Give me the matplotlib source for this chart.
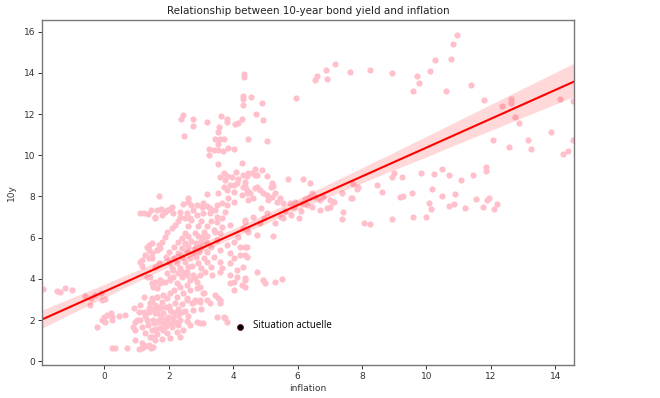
import numpy as np
import pandas as pd
import matplotlib
matplotlib.use("Agg")
import matplotlib.pyplot as plt
import seaborn as sns

# ---- data (inflation, 10y yield), grouped by region ----
left_pts = [(-1.92,3.52),(-1.47,3.42),(-1.37,3.34),(-1.21,3.54),(-1.00,3.48),(-0.59,3.18),
            (-0.45,2.73),(-0.43,3.06),(-0.28,3.22),(-0.12,3.30),(-0.07,2.98),(0.03,3.00),
            (-0.23,1.68),(-0.02,2.17),(0.08,2.25),(0.19,2.33),(0.24,2.17),(-0.07,2.00),
            (0.03,1.92),(0.24,2.00),(0.45,2.20),(0.65,2.25),(0.24,0.66),(0.34,0.66),
            (0.70,0.66),(1.07,0.60),(1.17,0.63)]

low_pts = [(0.96,1.03),(1.17,0.87),(1.38,0.79),(1.58,1.03),(1.43,1.19),(1.48,1.52),(1.27,1.36),
           (1.17,1.68),(0.96,1.92),(1.12,2.00),(1.33,2.00),(0.91,2.57),(1.12,2.73),(1.07,2.41),
           (1.22,2.41),(1.38,2.57),(1.58,2.33),(1.69,2.00),(1.48,2.98),(1.69,2.65),(1.22,3.14),
           (1.64,3.14),(1.43,4.11),(1.58,3.86),(1.74,3.95),(0.90,1.68),(0.95,1.52),(1.00,2.01),
           (1.52,3.62),(1.73,3.78),(1.89,3.86),(2.04,4.03),(2.14,4.11),(2.30,4.27),(2.45,4.35),
           (2.56,4.19),(2.66,3.95),(2.82,4.03),(2.97,4.19),(3.13,4.35),(3.34,4.19),(3.59,4.35),
           (3.90,3.78),(4.11,4.11),(4.27,3.70),(4.37,4.03),(4.01,3.46),(1.47,3.06),(1.63,3.14),
           (1.83,3.22),(2.04,3.30),(2.25,3.14),(2.45,3.30),(2.66,3.46),(2.87,3.54),(3.08,3.30),
           (2.56,3.06),(2.77,2.90),(2.97,2.90),(3.44,3.22),(3.54,3.06),(3.59,2.82),(3.28,2.82),
           (1.42,2.82),(1.57,2.73),(1.73,2.57),(1.89,2.65),(2.04,2.49),(2.19,2.33),(1.63,2.33),
           (1.83,2.33),(1.99,2.17),(2.14,2.09),(2.35,2.01),(1.52,2.01),(1.68,1.92),(1.83,1.84),
           (2.04,1.84),(2.30,1.76),(2.45,1.52),(2.66,1.76),(2.87,1.92),(2.97,1.84),(3.49,2.17),
           (3.75,2.09),(3.80,1.92),(2.25,1.44),(2.35,1.19),(1.47,1.19),(1.52,0.71),(2.71,2.82),
           (1.83,1.52),(1.73,1.60),(3.59,2.98),(3.70,2.17),(1.30,0.72),(1.45,0.62),(1.95,1.35),
           (2.10,1.65),(3.07,1.84),
           (1.35,1.75),(1.55,1.85),(1.62,1.30),(1.78,1.10),(1.90,2.00),(2.00,2.70),(2.20,2.85),
           (2.30,2.55),(2.50,2.45),(2.60,2.20),(2.40,2.80),(1.95,3.05),(2.15,3.45),(2.35,3.60),
           (2.55,3.70),(1.80,2.90),(2.75,2.50),(3.00,2.55),(2.55,1.95),(2.20,1.90),
           (1.25,2.20),(1.40,2.40),(1.55,2.55),(1.75,2.15),(1.90,1.70),(2.10,2.40),(2.30,2.25),
           (1.60,1.55),(2.05,1.15),(2.40,2.40)]

mid_left_pts = [(1.10,7.20),(1.24,7.20),(1.35,7.15),(1.45,7.36),(1.62,7.32),(1.75,7.40),(1.58,6.97),
                (1.69,8.04),(1.94,7.35),(2.09,7.51),(1.38,5.65),(1.48,5.73),(1.69,5.65),(1.64,5.40),
                (1.74,5.49),(1.38,5.40),(1.27,5.16),(1.17,4.92),(1.12,4.84),(1.48,5.00),(1.69,4.76),
                (1.58,4.56),(1.16,4.60),(1.31,4.11),(1.47,3.79),(1.63,3.54),(1.73,3.95),(1.94,4.27),
                (2.14,4.43),(2.04,3.95),(2.25,3.79),(2.40,4.11),(2.56,4.35),(2.71,4.60),(2.76,4.19),
                (2.87,3.87),(2.97,3.62),(3.07,3.30),(3.18,2.98),(2.97,2.98),(2.82,2.98),(2.56,2.98),
                (1.31,5.57),(1.47,5.24),(1.63,5.40),(1.78,5.81),(1.88,6.05),(1.94,6.29),(2.09,6.46),
                (2.19,6.62),(1.37,5.00)]

center_top_pts = [(2.61,7.91),(2.61,7.75),(3.18,8.12),(3.54,8.16),(3.80,8.32),(4.01,8.24),(3.90,8.56),
                  (4.11,8.64),(4.32,8.48),(4.27,8.07),(3.85,7.91),(4.01,7.75),(4.42,8.16),(4.47,7.83),
                  (1.88,7.26),(1.57,7.02),(1.78,7.10),(2.04,7.38),(2.14,7.18),(2.35,7.26),(2.35,7.02),
                  (2.56,7.18),(2.76,7.34),(2.87,7.59),(3.02,7.50),(3.18,7.54),(3.28,7.43),(2.66,6.94),
                  (2.51,6.94),(2.87,7.10),(3.07,7.18),(3.28,7.18),(3.44,7.34),(3.49,7.59),(3.65,7.67),
                  (3.80,7.59),(3.75,7.26),(3.49,7.02),(3.65,6.94),(2.45,7.62),(2.70,7.58),(3.05,7.68)]

center_pts = [(2.30,6.82),(2.70,6.85),(3.00,6.83),(3.30,6.80),(3.50,6.75),
              (2.60,6.58),(2.90,6.56),(3.20,6.57),
              (2.50,6.25),(2.80,6.22),(3.10,6.26),(3.45,6.27),
              (2.40,6.00),(2.60,6.08),(2.90,6.06),(3.05,6.02),(3.20,6.09),
              (2.30,5.80),(2.50,5.76),(2.70,5.83),(2.85,5.75),(3.00,5.82),(3.15,5.77),
              (2.15,5.55),(2.40,5.52),(2.60,5.58),(2.80,5.50),(3.00,5.57),(3.30,5.53),
              (2.00,5.30),(2.30,5.27),(2.55,5.33),(2.75,5.25),(2.95,5.32),(3.20,5.28),
              (1.90,5.05),(2.15,5.02),(2.40,5.08),(2.65,5.00),(2.85,5.06),(3.10,5.03),(3.40,5.07),
              (2.00,4.80),(2.25,4.78),(2.50,4.83),(2.90,4.76),(3.20,4.82),
              (2.10,4.55),(2.35,4.52),(2.60,4.58),(3.00,4.53),(3.30,4.57)]

mid_pts = [(3.59,4.84),(3.64,4.51),(3.90,4.76),(4.01,5.00),(4.21,5.16),(4.37,5.57),(4.42,5.08),
           (4.11,4.43),(3.90,4.19),(4.01,3.87),(4.37,3.95),(4.73,4.35),(4.94,3.95),(5.30,3.85),
           (5.51,3.98),(3.39,6.38),(3.64,6.54),(3.90,6.62),(4.37,6.78),(4.47,6.29),(4.73,6.13),
           (5.25,6.08),(4.01,5.81),(4.16,6.05),(3.80,5.65),(3.59,5.40),(4.21,5.57),(3.90,5.24),
           (3.49,5.89),(3.59,6.21),(4.37,6.86),(4.32,6.46),(4.42,6.37),(4.84,6.70),(5.30,6.73),
           (5.56,6.94),(6.03,6.94),(4.42,5.56),(4.37,5.16),(4.32,4.59),(4.99,3.82),(4.37,3.62)]

upper_pts = [(4.27,9.64),(4.32,9.04),(4.42,9.00),(4.47,9.13),(4.37,8.72),(4.58,9.13),(4.68,9.32),
             (4.89,9.29),(4.68,9.04),(5.04,9.00),(5.20,8.64),(5.25,8.51),(5.17,8.48),(5.71,8.85),
             (6.18,8.83),(6.39,8.67),(4.42,8.32),(4.68,8.40),(4.84,8.32),(4.94,8.16),(4.63,7.91),
             (4.53,8.16),(5.04,8.07),(5.09,7.83),(5.20,7.99),(5.30,8.16),(5.46,7.91),(5.35,7.75),
             (4.09,9.20),(3.96,8.96),(3.80,9.00),(4.16,8.83),(3.70,8.48),(4.01,8.56),(4.37,8.51),
             (4.73,8.48),(4.73,9.04),(3.60,8.95),(3.70,9.15),(3.75,8.80)]

band_pts = [(5.56,7.67),(5.77,7.67),(5.92,7.75),(6.13,7.67),(6.23,7.86),(6.34,7.99),(6.44,8.16),
            (6.54,7.96),(6.70,7.83),(6.80,7.99),(7.01,7.83),(6.44,7.50),(6.70,7.34),(6.91,7.42),
            (7.11,7.75),(7.37,8.16),(7.68,7.91),(7.89,8.48),(7.84,8.36),(7.73,8.59),(8.47,8.56),
            (8.61,8.20),(7.01,7.49),(7.37,6.91),(7.40,7.23),(8.06,6.71),(8.25,6.68),(5.60,7.30),
            (5.80,7.10),(5.90,7.50),(6.10,7.30),(6.30,7.60),(5.50,7.00),(5.05,7.20),(4.85,7.45),
            (4.60,7.00),(4.95,6.95)]

high_pts = [(5.95,12.80),(6.54,13.66),(6.61,13.86),(6.89,14.16),(6.91,13.69),(7.17,14.45),(7.62,14.03),
            (8.26,14.13),(8.93,13.98),(9.70,13.86),(9.78,13.49),(9.58,13.14),(10.11,14.11),(10.27,14.61),
            (10.77,14.66),(10.82,15.39),(10.96,15.83),(10.61,13.14),(11.39,13.43),(11.79,12.67),
            (12.34,12.41),(12.63,12.73),(12.63,12.52),(12.75,11.87),(12.88,11.55),(14.15,12.73),
            (14.55,12.64),(13.86,11.13),(12.06,10.73),(12.58,10.39),(13.14,10.76),(13.25,10.32),
            (14.24,10.06),(14.41,10.21),(14.55,10.74)]

upper_left_pts = [(4.34,13.95),(4.34,13.82),(4.32,12.88),(4.30,12.73),(4.56,12.82),(4.29,12.46),
                  (4.91,12.52),(2.45,11.96),(2.37,11.75),(2.75,11.75),(2.76,11.42),(2.48,10.95),
                  (3.18,11.63),(3.61,11.91),(3.80,11.78),(3.82,11.63),(4.06,11.53),(4.16,11.58),
                  (4.27,11.75),(4.71,12.00),(4.94,11.71),(3.57,11.39),(3.54,11.15),(4.47,10.78),
                  (5.04,10.71),(3.44,10.79),(3.60,10.78),(3.70,10.78),(3.54,10.55),(3.26,10.29),
                  (3.39,10.26),(3.54,10.26),(3.68,10.22),(3.85,10.35),(4.01,10.29),(3.25,10.00),
                  (3.52,9.58)]

right_pts = [(8.93,8.96),(9.00,9.16),(9.25,8.95),(9.84,9.16),(10.25,9.11),(10.49,9.35),(10.70,9.04),
             (11.07,8.80),(11.44,9.03),(11.84,9.25),(11.85,9.45),(10.17,8.35),(9.55,8.18),(9.27,8.04),
             (9.18,7.96),(10.47,8.02),(10.89,8.11),(11.54,7.88),(11.88,7.83),(11.93,7.94),(12.19,7.64),
             (12.09,7.39),(11.75,7.50),(11.19,7.46),(10.85,7.64),(10.70,7.52),(10.07,7.67),(10.14,7.41),
             (9.59,6.99),(9.99,7.02),(8.93,6.91),(7.13,7.75),(7.65,7.93)]

current_infl = [4.2]
current_yield = [1.67]
current_label = "Situation actuelle"

groups = [left_pts, low_pts, mid_left_pts, center_top_pts, center_pts, mid_pts,
          upper_pts, band_pts, high_pts, upper_left_pts, right_pts]
pts = [p for g in groups for p in g]
df = pd.DataFrame(pts, columns=["inflation", "10y"])

# ---- plot ----
fig = plt.figure(figsize=(6.6, 3.98), dpi=100)
ax = fig.add_axes([0.064, 0.083, 0.806, 0.867])
ax.set_xlim(-1.93, 14.59)
ax.set_ylim(-0.18, 16.57)

sns.regplot(data=df, x="inflation", y="10y", ax=ax, truncate=False,
            scatter_kws=dict(color="pink", s=20, alpha=1, linewidths=0),
            line_kws=dict(color="red", lw=1.5))
ax.set_xlim(-1.93, 14.59)
ax.set_ylim(-0.18, 16.57)

ax.scatter(current_infl, current_yield, color="black", s=18, zorder=5,
           edgecolors="#5a1010", linewidths=0.6)
ax.text(current_infl[0] + 0.42, current_yield[0] + 0.08, current_label,
        fontsize=7, va="center", ha="left", color="black", family="Open Sans")

ax.set_title("Relationship between 10-year bond yield and inflation", fontsize=7.5, color="#222222", pad=4)
ax.set_xlabel("inflation", fontsize=6.5, color="#333333", labelpad=2)
ax.set_ylabel("10y", fontsize=6.5, color="#333333", labelpad=6)
ax.set_xticks([0, 2, 4, 6, 8, 10, 12, 14])
ax.set_yticks([0, 2, 4, 6, 8, 10, 12, 14, 16])
ax.tick_params(labelsize=6.5, colors="#333333", length=3, width=0.7, pad=2)
for s in ax.spines.values():
    s.set_color("#777777")
    s.set_linewidth(1.0)

fig.savefig("out.png", dpi=100)
